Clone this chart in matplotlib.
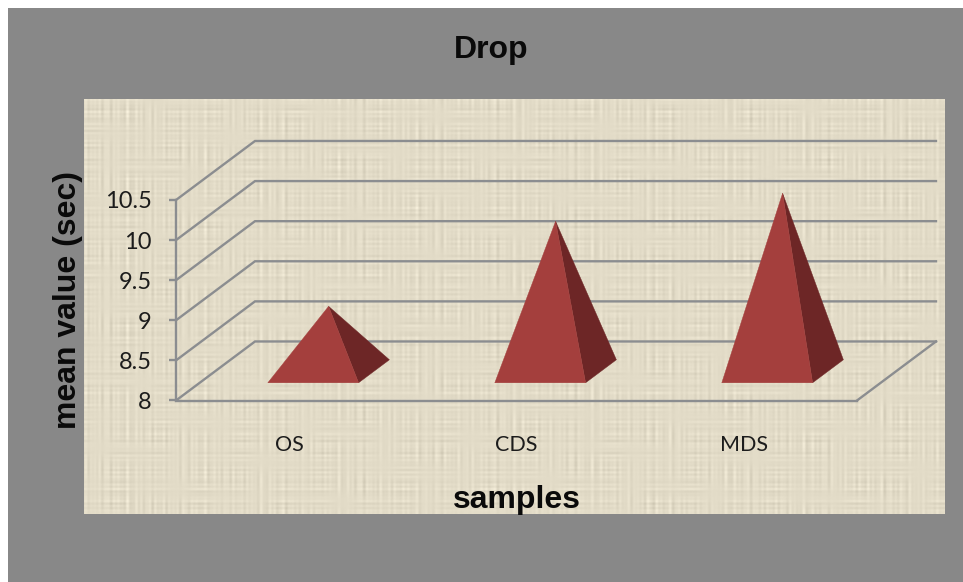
import numpy as np
import matplotlib
matplotlib.use('Agg')
import matplotlib.pyplot as plt
from matplotlib.patches import Polygon, Rectangle

categories = ['OS', 'CDS', 'MDS']
values = [8.81, 9.87, 10.22]
yticks = [8, 8.5, 9, 9.5, 10, 10.5]
ytick_labels = ['8', '8.5', '9', '9.5', '10', '10.5']

W, H = 963, 582
GRID = '#8b8d90'
FRONT = '#a43f3d'
SIDE = '#6d2626'

# oblique 3d: how far the back wall is shifted, in data units
DEPTH_X = 0.348
DEPTH_Y = 0.736
BAR_W = 0.40
DEPTH_NEAR = 0.30
DEPTH_FAR = 0.69


def fx(px):
    return px / W


def fy(py):
    return 1 - py / H


def proj(x, y, d):
    return (x + d * DEPTH_X, y + d * DEPTH_Y)


fig = plt.figure(figsize=(W / 100, H / 100), dpi=100, facecolor='white')
fig.patches.append(Rectangle((fx(8), 0), 1 - fx(8), fy(8), transform=fig.transFigure,
                             facecolor='#888888', edgecolor='none', figure=fig, zorder=-5))

# burlap background of the chart area
bg = fig.add_axes([fx(83.5), fy(514), fx(944 - 83.5), (514 - 99) / H])
nx, ny = 860, 415
xx, yy = np.meshgrid(np.arange(nx), np.arange(ny))
# threads running up and down, broken into patches
vert = np.sin(xx * 1.13) * np.sin(xx * 0.237 + 1) + 0.7 * np.sin(xx * 0.61 + 0.5) * np.sin(xx * 0.041)
horz = np.sin(yy * 1.31) * np.sin(yy * 0.193 + 2) + 0.6 * np.sin(yy * 0.53) * np.sin(yy * 0.057 + 1)
patch_v = 0.55 + 0.45 * np.sin(yy * 0.047 + xx * 0.019) * np.sin(yy * 0.13 - xx * 0.031 + 1)
patch_h = 0.5 + 0.5 * np.sin(xx * 0.043 - yy * 0.021 + 2) * np.sin(xx * 0.11 + yy * 0.027)
weave = vert * patch_v + 0.8 * horz * patch_h
shade = 221 + 10 * weave
tex = np.dstack([shade + 6, shade - 1, shade - 21]).clip(0, 255).astype(np.uint8)
bg.imshow(tex, aspect='auto', interpolation='bilinear')
bg.axis('off')

ax = fig.add_axes([fx(176), fy(400.5), fx(857 - 176), (400.5 - 200) / H])
ax.patch.set_alpha(0)
ax.set_xlim(0, 3)
ax.set_ylim(8, 10.5)

# back wall and side wall grid
for t in yticks:
    p0 = proj(0, t, 0)
    p1 = proj(0, t, 1)
    p2 = proj(3, t, 1)
    ax.plot([p0[0], p1[0], p2[0]], [p0[1], p1[1], p2[1]], color=GRID, lw=1.7,
            clip_on=False, solid_joinstyle='miter')
# floor, right edge
p0 = proj(3, 8, 0)
p1 = proj(3, 8, 1)
ax.plot([p0[0], p1[0]], [p0[1], p1[1]], color=GRID, lw=1.7, clip_on=False)

for i, v in enumerate(values):
    x0 = i + 0.5 - BAR_W / 2
    x1 = i + 0.5 + BAR_W / 2
    apex = proj(i + 0.5, v, (DEPTH_NEAR + DEPTH_FAR) / 2)
    front = [proj(x0, 8, DEPTH_NEAR), proj(x1, 8, DEPTH_NEAR), apex]
    side = [proj(x1, 8, DEPTH_NEAR), proj(x1, 8, DEPTH_FAR), apex]
    ax.add_patch(Polygon(side, closed=True, facecolor=SIDE, edgecolor=SIDE, lw=0.3,
                         clip_on=False, zorder=3))
    ax.add_patch(Polygon(front, closed=True, facecolor=FRONT, edgecolor=FRONT, lw=0.3,
                         clip_on=False, zorder=3))

for s in ['top', 'right']:
    ax.spines[s].set_visible(False)
for s in ['left', 'bottom']:
    ax.spines[s].set_color(GRID)
    ax.spines[s].set_linewidth(1.7)

ax.set_yticks(yticks)
ax.set_yticklabels(ytick_labels, family='Lato', fontsize=17, color='#1c1c1c')
ax.tick_params(axis='y', length=5, width=1.7, color=GRID, pad=12.5)
ax.set_xticks([i + 0.5 for i in range(len(categories))])
ax.set_xticklabels(categories, family='Lato', fontsize=15.5, color='#1c1c1c')
ax.tick_params(axis='x', length=0, pad=25)

fig.text(fx(491), fy(50), 'Drop', family='Liberation Sans', fontweight='bold', fontsize=23,
         ha='center', va='center', color='#0a0a0a')
fig.text(fx(517), fy(500), 'samples', family='Liberation Sans', fontweight='bold', fontsize=23,
         ha='center', va='center', color='#0a0a0a')
fig.text(fx(68), fy(300), 'mean value (sec)', family='Liberation Sans', fontweight='bold',
         fontsize=23, rotation=90, ha='center', va='center', color='#0a0a0a')

fig.savefig('out.png', dpi=100, facecolor='white')
